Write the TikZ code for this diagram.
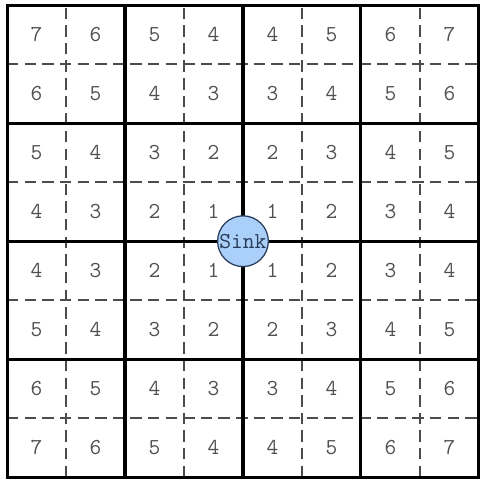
\documentclass[tikz,border=0pt]{standalone}
\definecolor{sinkfill}{RGB}{170,208,250}
\definecolor{sinkdraw}{RGB}{40,60,90}
\definecolor{numgray}{RGB}{80,80,80}
\begin{document}
\begin{tikzpicture}[x=1cm, y=1cm, line cap=butt, line join=miter]
  \tikzset{
    thin grid/.style={draw=black!70, line width=0.8pt, dash pattern=on 5.5pt off 3pt},
    thick grid/.style={draw=black, line width=1.5pt},
    dist/.style={font=\ttfamily\fontsize{11}{13}\selectfont, text=numgray},
    sink/.style={circle, draw=sinkdraw, fill=sinkfill, line width=0.6pt,
                 minimum size=0.86cm, inner sep=0pt,
                 font=\ttfamily\fontsize{11}{13}\selectfont, text=sinkdraw}
  }
  % Picture margins
  \useasboundingbox (-0.12, -0.08) rectangle (8.07, 8.09);

  % Dashed lines between single cells
  \foreach \k in {1, 3, 5, 7} {
    \draw[thin grid] (\k, 0) -- (\k, 8);
    \draw[thin grid] (0, \k) -- (8, \k);
  }

  % Solid lines around 2x2 blocks
  \foreach \k in {2, 4, 6} {
    \draw[thick grid] (\k, 0) -- (\k, 8);
    \draw[thick grid] (0, \k) -- (8, \k);
  }
  \draw[thick grid] (0, 0) rectangle (8, 8);

  % Distance to the centre, cell by cell
  \foreach \i in {0,...,7} {
    \foreach \j in {0,...,7} {
      \pgfmathtruncatemacro{\d}{abs(\i - 3.5) + abs(\j - 3.5)}
      \node[dist] (d-\i-\j) at (\j + 0.5, 7.5 - \i) {\d};
    }
  }

  % Sink in the middle
  \node[sink] (sink) at (4, 4) {Sink};
\end{tikzpicture}
\end{document}
